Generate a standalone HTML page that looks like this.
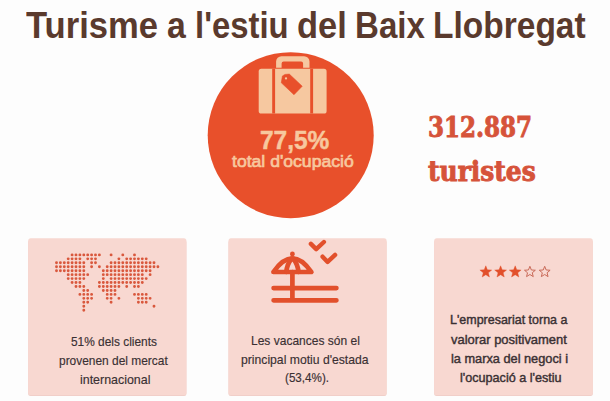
<!DOCTYPE html>
<html lang="ca"><head><meta charset="utf-8"><title>Turisme a l'estiu del Baix Llobregat</title>
<style>
html,body{margin:0;padding:0}
body{width:610px;height:401px;overflow:hidden;background:#fdfdfd;position:relative;font-family:"Liberation Sans",sans-serif}
svg{position:absolute;left:0;top:0}
.t{position:absolute;white-space:nowrap;line-height:1;margin:0;transform-origin:0 0}
h1{margin:0;font-size:0}
.ti{color:#5a3a2d}
.big{color:#d6533a}
.pct{color:#f7c89e}
.occ{color:#f7c89e}
.p{color:#3a3033}
</style></head><body>
<svg width="610" height="401" viewBox="0 0 610 401">
<circle cx="290.7" cy="135.2" r="83" fill="#e8502b"/>
<g fill="#f6c8a0">
<path d="M276.1 67.8V61.6a5.4 5.4 0 0 1 5.4-5.4h22.6a5.4 5.4 0 0 1 5.4 5.4V67.8h-6.4v-4.3a2 2 0 0 0-2-2h-17.5a2 2 0 0 0-2 2V67.8z"/>
<rect x="258.7" y="68.8" width="67.9" height="44.8" rx="2.6"/>
</g>
<path d="M272.2 68.8h2.9v44.8h-2.9zM310.2 68.8h2.9v44.8h-2.9z" fill="#e8502b"/>
<path d="M285 74.4L289.3 74.1L302.2 86.2L294 94.7L281.3 82.8L282.4 76z" fill="#e8502b" stroke="#e8502b" stroke-width="0.6" stroke-linejoin="round"/>
<circle cx="286" cy="78.4" r="1.15" fill="#f6c8a0"/>
<g fill="#efcdc6"><rect x="28.2" y="240" width="158.2" height="156" rx="2.5"/><rect x="228.5" y="240" width="158.1" height="156" rx="2.5"/><rect x="434.2" y="240" width="158.6" height="156" rx="2.5"/></g>
<g fill="#f8d8d1"><rect x="28.2" y="238.2" width="158.2" height="157" rx="2.5"/><rect x="228.5" y="238.2" width="158.1" height="157" rx="2.5"/><rect x="434.2" y="238.2" width="158.6" height="157" rx="2.5"/></g>
<path d="M70.65 254.90a1.45 1.45 0 1 0 2.9 0a1.45 1.45 0 1 0 -2.9 0zM74.55 254.90a1.45 1.45 0 1 0 2.9 0a1.45 1.45 0 1 0 -2.9 0zM78.45 254.90a1.45 1.45 0 1 0 2.9 0a1.45 1.45 0 1 0 -2.9 0zM82.35 254.90a1.45 1.45 0 1 0 2.9 0a1.45 1.45 0 1 0 -2.9 0zM86.25 254.90a1.45 1.45 0 1 0 2.9 0a1.45 1.45 0 1 0 -2.9 0zM90.15 254.90a1.45 1.45 0 1 0 2.9 0a1.45 1.45 0 1 0 -2.9 0zM94.05 254.90a1.45 1.45 0 1 0 2.9 0a1.45 1.45 0 1 0 -2.9 0zM97.95 254.90a1.45 1.45 0 1 0 2.9 0a1.45 1.45 0 1 0 -2.9 0zM109.65 254.90a1.45 1.45 0 1 0 2.9 0a1.45 1.45 0 1 0 -2.9 0zM121.35 254.90a1.45 1.45 0 1 0 2.9 0a1.45 1.45 0 1 0 -2.9 0zM133.05 254.90a1.45 1.45 0 1 0 2.9 0a1.45 1.45 0 1 0 -2.9 0zM66.75 258.85a1.45 1.45 0 1 0 2.9 0a1.45 1.45 0 1 0 -2.9 0zM70.65 258.85a1.45 1.45 0 1 0 2.9 0a1.45 1.45 0 1 0 -2.9 0zM74.55 258.85a1.45 1.45 0 1 0 2.9 0a1.45 1.45 0 1 0 -2.9 0zM78.45 258.85a1.45 1.45 0 1 0 2.9 0a1.45 1.45 0 1 0 -2.9 0zM86.25 258.85a1.45 1.45 0 1 0 2.9 0a1.45 1.45 0 1 0 -2.9 0zM90.15 258.85a1.45 1.45 0 1 0 2.9 0a1.45 1.45 0 1 0 -2.9 0zM94.05 258.85a1.45 1.45 0 1 0 2.9 0a1.45 1.45 0 1 0 -2.9 0zM117.45 258.85a1.45 1.45 0 1 0 2.9 0a1.45 1.45 0 1 0 -2.9 0zM125.25 258.85a1.45 1.45 0 1 0 2.9 0a1.45 1.45 0 1 0 -2.9 0zM129.15 258.85a1.45 1.45 0 1 0 2.9 0a1.45 1.45 0 1 0 -2.9 0zM133.05 258.85a1.45 1.45 0 1 0 2.9 0a1.45 1.45 0 1 0 -2.9 0zM136.95 258.85a1.45 1.45 0 1 0 2.9 0a1.45 1.45 0 1 0 -2.9 0zM140.85 258.85a1.45 1.45 0 1 0 2.9 0a1.45 1.45 0 1 0 -2.9 0zM144.75 258.85a1.45 1.45 0 1 0 2.9 0a1.45 1.45 0 1 0 -2.9 0zM55.05 262.80a1.45 1.45 0 1 0 2.9 0a1.45 1.45 0 1 0 -2.9 0zM58.95 262.80a1.45 1.45 0 1 0 2.9 0a1.45 1.45 0 1 0 -2.9 0zM62.85 262.80a1.45 1.45 0 1 0 2.9 0a1.45 1.45 0 1 0 -2.9 0zM66.75 262.80a1.45 1.45 0 1 0 2.9 0a1.45 1.45 0 1 0 -2.9 0zM70.65 262.80a1.45 1.45 0 1 0 2.9 0a1.45 1.45 0 1 0 -2.9 0zM74.55 262.80a1.45 1.45 0 1 0 2.9 0a1.45 1.45 0 1 0 -2.9 0zM78.45 262.80a1.45 1.45 0 1 0 2.9 0a1.45 1.45 0 1 0 -2.9 0zM82.35 262.80a1.45 1.45 0 1 0 2.9 0a1.45 1.45 0 1 0 -2.9 0zM90.15 262.80a1.45 1.45 0 1 0 2.9 0a1.45 1.45 0 1 0 -2.9 0zM94.05 262.80a1.45 1.45 0 1 0 2.9 0a1.45 1.45 0 1 0 -2.9 0zM109.65 262.80a1.45 1.45 0 1 0 2.9 0a1.45 1.45 0 1 0 -2.9 0zM113.55 262.80a1.45 1.45 0 1 0 2.9 0a1.45 1.45 0 1 0 -2.9 0zM117.45 262.80a1.45 1.45 0 1 0 2.9 0a1.45 1.45 0 1 0 -2.9 0zM121.35 262.80a1.45 1.45 0 1 0 2.9 0a1.45 1.45 0 1 0 -2.9 0zM125.25 262.80a1.45 1.45 0 1 0 2.9 0a1.45 1.45 0 1 0 -2.9 0zM129.15 262.80a1.45 1.45 0 1 0 2.9 0a1.45 1.45 0 1 0 -2.9 0zM133.05 262.80a1.45 1.45 0 1 0 2.9 0a1.45 1.45 0 1 0 -2.9 0zM136.95 262.80a1.45 1.45 0 1 0 2.9 0a1.45 1.45 0 1 0 -2.9 0zM140.85 262.80a1.45 1.45 0 1 0 2.9 0a1.45 1.45 0 1 0 -2.9 0zM144.75 262.80a1.45 1.45 0 1 0 2.9 0a1.45 1.45 0 1 0 -2.9 0zM148.65 262.80a1.45 1.45 0 1 0 2.9 0a1.45 1.45 0 1 0 -2.9 0zM152.55 262.80a1.45 1.45 0 1 0 2.9 0a1.45 1.45 0 1 0 -2.9 0zM55.05 266.75a1.45 1.45 0 1 0 2.9 0a1.45 1.45 0 1 0 -2.9 0zM58.95 266.75a1.45 1.45 0 1 0 2.9 0a1.45 1.45 0 1 0 -2.9 0zM62.85 266.75a1.45 1.45 0 1 0 2.9 0a1.45 1.45 0 1 0 -2.9 0zM66.75 266.75a1.45 1.45 0 1 0 2.9 0a1.45 1.45 0 1 0 -2.9 0zM70.65 266.75a1.45 1.45 0 1 0 2.9 0a1.45 1.45 0 1 0 -2.9 0zM74.55 266.75a1.45 1.45 0 1 0 2.9 0a1.45 1.45 0 1 0 -2.9 0zM78.45 266.75a1.45 1.45 0 1 0 2.9 0a1.45 1.45 0 1 0 -2.9 0zM82.35 266.75a1.45 1.45 0 1 0 2.9 0a1.45 1.45 0 1 0 -2.9 0zM90.15 266.75a1.45 1.45 0 1 0 2.9 0a1.45 1.45 0 1 0 -2.9 0zM97.95 266.75a1.45 1.45 0 1 0 2.9 0a1.45 1.45 0 1 0 -2.9 0zM105.75 266.75a1.45 1.45 0 1 0 2.9 0a1.45 1.45 0 1 0 -2.9 0zM109.65 266.75a1.45 1.45 0 1 0 2.9 0a1.45 1.45 0 1 0 -2.9 0zM113.55 266.75a1.45 1.45 0 1 0 2.9 0a1.45 1.45 0 1 0 -2.9 0zM117.45 266.75a1.45 1.45 0 1 0 2.9 0a1.45 1.45 0 1 0 -2.9 0zM121.35 266.75a1.45 1.45 0 1 0 2.9 0a1.45 1.45 0 1 0 -2.9 0zM125.25 266.75a1.45 1.45 0 1 0 2.9 0a1.45 1.45 0 1 0 -2.9 0zM129.15 266.75a1.45 1.45 0 1 0 2.9 0a1.45 1.45 0 1 0 -2.9 0zM133.05 266.75a1.45 1.45 0 1 0 2.9 0a1.45 1.45 0 1 0 -2.9 0zM136.95 266.75a1.45 1.45 0 1 0 2.9 0a1.45 1.45 0 1 0 -2.9 0zM140.85 266.75a1.45 1.45 0 1 0 2.9 0a1.45 1.45 0 1 0 -2.9 0zM144.75 266.75a1.45 1.45 0 1 0 2.9 0a1.45 1.45 0 1 0 -2.9 0zM148.65 266.75a1.45 1.45 0 1 0 2.9 0a1.45 1.45 0 1 0 -2.9 0zM152.55 266.75a1.45 1.45 0 1 0 2.9 0a1.45 1.45 0 1 0 -2.9 0zM156.45 266.75a1.45 1.45 0 1 0 2.9 0a1.45 1.45 0 1 0 -2.9 0zM55.05 270.70a1.45 1.45 0 1 0 2.9 0a1.45 1.45 0 1 0 -2.9 0zM58.95 270.70a1.45 1.45 0 1 0 2.9 0a1.45 1.45 0 1 0 -2.9 0zM62.85 270.70a1.45 1.45 0 1 0 2.9 0a1.45 1.45 0 1 0 -2.9 0zM66.75 270.70a1.45 1.45 0 1 0 2.9 0a1.45 1.45 0 1 0 -2.9 0zM70.65 270.70a1.45 1.45 0 1 0 2.9 0a1.45 1.45 0 1 0 -2.9 0zM74.55 270.70a1.45 1.45 0 1 0 2.9 0a1.45 1.45 0 1 0 -2.9 0zM78.45 270.70a1.45 1.45 0 1 0 2.9 0a1.45 1.45 0 1 0 -2.9 0zM82.35 270.70a1.45 1.45 0 1 0 2.9 0a1.45 1.45 0 1 0 -2.9 0zM101.85 270.70a1.45 1.45 0 1 0 2.9 0a1.45 1.45 0 1 0 -2.9 0zM105.75 270.70a1.45 1.45 0 1 0 2.9 0a1.45 1.45 0 1 0 -2.9 0zM109.65 270.70a1.45 1.45 0 1 0 2.9 0a1.45 1.45 0 1 0 -2.9 0zM113.55 270.70a1.45 1.45 0 1 0 2.9 0a1.45 1.45 0 1 0 -2.9 0zM117.45 270.70a1.45 1.45 0 1 0 2.9 0a1.45 1.45 0 1 0 -2.9 0zM121.35 270.70a1.45 1.45 0 1 0 2.9 0a1.45 1.45 0 1 0 -2.9 0zM125.25 270.70a1.45 1.45 0 1 0 2.9 0a1.45 1.45 0 1 0 -2.9 0zM129.15 270.70a1.45 1.45 0 1 0 2.9 0a1.45 1.45 0 1 0 -2.9 0zM133.05 270.70a1.45 1.45 0 1 0 2.9 0a1.45 1.45 0 1 0 -2.9 0zM136.95 270.70a1.45 1.45 0 1 0 2.9 0a1.45 1.45 0 1 0 -2.9 0zM140.85 270.70a1.45 1.45 0 1 0 2.9 0a1.45 1.45 0 1 0 -2.9 0zM144.75 270.70a1.45 1.45 0 1 0 2.9 0a1.45 1.45 0 1 0 -2.9 0zM148.65 270.70a1.45 1.45 0 1 0 2.9 0a1.45 1.45 0 1 0 -2.9 0zM66.75 274.65a1.45 1.45 0 1 0 2.9 0a1.45 1.45 0 1 0 -2.9 0zM70.65 274.65a1.45 1.45 0 1 0 2.9 0a1.45 1.45 0 1 0 -2.9 0zM74.55 274.65a1.45 1.45 0 1 0 2.9 0a1.45 1.45 0 1 0 -2.9 0zM78.45 274.65a1.45 1.45 0 1 0 2.9 0a1.45 1.45 0 1 0 -2.9 0zM82.35 274.65a1.45 1.45 0 1 0 2.9 0a1.45 1.45 0 1 0 -2.9 0zM86.25 274.65a1.45 1.45 0 1 0 2.9 0a1.45 1.45 0 1 0 -2.9 0zM101.85 274.65a1.45 1.45 0 1 0 2.9 0a1.45 1.45 0 1 0 -2.9 0zM105.75 274.65a1.45 1.45 0 1 0 2.9 0a1.45 1.45 0 1 0 -2.9 0zM109.65 274.65a1.45 1.45 0 1 0 2.9 0a1.45 1.45 0 1 0 -2.9 0zM113.55 274.65a1.45 1.45 0 1 0 2.9 0a1.45 1.45 0 1 0 -2.9 0zM117.45 274.65a1.45 1.45 0 1 0 2.9 0a1.45 1.45 0 1 0 -2.9 0zM121.35 274.65a1.45 1.45 0 1 0 2.9 0a1.45 1.45 0 1 0 -2.9 0zM125.25 274.65a1.45 1.45 0 1 0 2.9 0a1.45 1.45 0 1 0 -2.9 0zM129.15 274.65a1.45 1.45 0 1 0 2.9 0a1.45 1.45 0 1 0 -2.9 0zM133.05 274.65a1.45 1.45 0 1 0 2.9 0a1.45 1.45 0 1 0 -2.9 0zM136.95 274.65a1.45 1.45 0 1 0 2.9 0a1.45 1.45 0 1 0 -2.9 0zM140.85 274.65a1.45 1.45 0 1 0 2.9 0a1.45 1.45 0 1 0 -2.9 0zM148.65 274.65a1.45 1.45 0 1 0 2.9 0a1.45 1.45 0 1 0 -2.9 0zM66.75 278.60a1.45 1.45 0 1 0 2.9 0a1.45 1.45 0 1 0 -2.9 0zM70.65 278.60a1.45 1.45 0 1 0 2.9 0a1.45 1.45 0 1 0 -2.9 0zM74.55 278.60a1.45 1.45 0 1 0 2.9 0a1.45 1.45 0 1 0 -2.9 0zM78.45 278.60a1.45 1.45 0 1 0 2.9 0a1.45 1.45 0 1 0 -2.9 0zM82.35 278.60a1.45 1.45 0 1 0 2.9 0a1.45 1.45 0 1 0 -2.9 0zM101.85 278.60a1.45 1.45 0 1 0 2.9 0a1.45 1.45 0 1 0 -2.9 0zM109.65 278.60a1.45 1.45 0 1 0 2.9 0a1.45 1.45 0 1 0 -2.9 0zM113.55 278.60a1.45 1.45 0 1 0 2.9 0a1.45 1.45 0 1 0 -2.9 0zM117.45 278.60a1.45 1.45 0 1 0 2.9 0a1.45 1.45 0 1 0 -2.9 0zM121.35 278.60a1.45 1.45 0 1 0 2.9 0a1.45 1.45 0 1 0 -2.9 0zM125.25 278.60a1.45 1.45 0 1 0 2.9 0a1.45 1.45 0 1 0 -2.9 0zM129.15 278.60a1.45 1.45 0 1 0 2.9 0a1.45 1.45 0 1 0 -2.9 0zM133.05 278.60a1.45 1.45 0 1 0 2.9 0a1.45 1.45 0 1 0 -2.9 0zM136.95 278.60a1.45 1.45 0 1 0 2.9 0a1.45 1.45 0 1 0 -2.9 0zM140.85 278.60a1.45 1.45 0 1 0 2.9 0a1.45 1.45 0 1 0 -2.9 0zM144.75 278.60a1.45 1.45 0 1 0 2.9 0a1.45 1.45 0 1 0 -2.9 0zM70.65 282.55a1.45 1.45 0 1 0 2.9 0a1.45 1.45 0 1 0 -2.9 0zM74.55 282.55a1.45 1.45 0 1 0 2.9 0a1.45 1.45 0 1 0 -2.9 0zM78.45 282.55a1.45 1.45 0 1 0 2.9 0a1.45 1.45 0 1 0 -2.9 0zM97.95 282.55a1.45 1.45 0 1 0 2.9 0a1.45 1.45 0 1 0 -2.9 0zM101.85 282.55a1.45 1.45 0 1 0 2.9 0a1.45 1.45 0 1 0 -2.9 0zM105.75 282.55a1.45 1.45 0 1 0 2.9 0a1.45 1.45 0 1 0 -2.9 0zM109.65 282.55a1.45 1.45 0 1 0 2.9 0a1.45 1.45 0 1 0 -2.9 0zM113.55 282.55a1.45 1.45 0 1 0 2.9 0a1.45 1.45 0 1 0 -2.9 0zM117.45 282.55a1.45 1.45 0 1 0 2.9 0a1.45 1.45 0 1 0 -2.9 0zM121.35 282.55a1.45 1.45 0 1 0 2.9 0a1.45 1.45 0 1 0 -2.9 0zM125.25 282.55a1.45 1.45 0 1 0 2.9 0a1.45 1.45 0 1 0 -2.9 0zM129.15 282.55a1.45 1.45 0 1 0 2.9 0a1.45 1.45 0 1 0 -2.9 0zM133.05 282.55a1.45 1.45 0 1 0 2.9 0a1.45 1.45 0 1 0 -2.9 0zM136.95 282.55a1.45 1.45 0 1 0 2.9 0a1.45 1.45 0 1 0 -2.9 0zM140.85 282.55a1.45 1.45 0 1 0 2.9 0a1.45 1.45 0 1 0 -2.9 0zM74.55 286.50a1.45 1.45 0 1 0 2.9 0a1.45 1.45 0 1 0 -2.9 0zM78.45 286.50a1.45 1.45 0 1 0 2.9 0a1.45 1.45 0 1 0 -2.9 0zM82.35 286.50a1.45 1.45 0 1 0 2.9 0a1.45 1.45 0 1 0 -2.9 0zM97.95 286.50a1.45 1.45 0 1 0 2.9 0a1.45 1.45 0 1 0 -2.9 0zM101.85 286.50a1.45 1.45 0 1 0 2.9 0a1.45 1.45 0 1 0 -2.9 0zM105.75 286.50a1.45 1.45 0 1 0 2.9 0a1.45 1.45 0 1 0 -2.9 0zM109.65 286.50a1.45 1.45 0 1 0 2.9 0a1.45 1.45 0 1 0 -2.9 0zM113.55 286.50a1.45 1.45 0 1 0 2.9 0a1.45 1.45 0 1 0 -2.9 0zM117.45 286.50a1.45 1.45 0 1 0 2.9 0a1.45 1.45 0 1 0 -2.9 0zM125.25 286.50a1.45 1.45 0 1 0 2.9 0a1.45 1.45 0 1 0 -2.9 0zM133.05 286.50a1.45 1.45 0 1 0 2.9 0a1.45 1.45 0 1 0 -2.9 0zM136.95 286.50a1.45 1.45 0 1 0 2.9 0a1.45 1.45 0 1 0 -2.9 0zM82.35 290.45a1.45 1.45 0 1 0 2.9 0a1.45 1.45 0 1 0 -2.9 0zM86.25 290.45a1.45 1.45 0 1 0 2.9 0a1.45 1.45 0 1 0 -2.9 0zM101.85 290.45a1.45 1.45 0 1 0 2.9 0a1.45 1.45 0 1 0 -2.9 0zM105.75 290.45a1.45 1.45 0 1 0 2.9 0a1.45 1.45 0 1 0 -2.9 0zM109.65 290.45a1.45 1.45 0 1 0 2.9 0a1.45 1.45 0 1 0 -2.9 0zM113.55 290.45a1.45 1.45 0 1 0 2.9 0a1.45 1.45 0 1 0 -2.9 0zM78.45 294.40a1.45 1.45 0 1 0 2.9 0a1.45 1.45 0 1 0 -2.9 0zM82.35 294.40a1.45 1.45 0 1 0 2.9 0a1.45 1.45 0 1 0 -2.9 0zM86.25 294.40a1.45 1.45 0 1 0 2.9 0a1.45 1.45 0 1 0 -2.9 0zM90.15 294.40a1.45 1.45 0 1 0 2.9 0a1.45 1.45 0 1 0 -2.9 0zM105.75 294.40a1.45 1.45 0 1 0 2.9 0a1.45 1.45 0 1 0 -2.9 0zM109.65 294.40a1.45 1.45 0 1 0 2.9 0a1.45 1.45 0 1 0 -2.9 0zM113.55 294.40a1.45 1.45 0 1 0 2.9 0a1.45 1.45 0 1 0 -2.9 0zM133.05 294.40a1.45 1.45 0 1 0 2.9 0a1.45 1.45 0 1 0 -2.9 0zM136.95 294.40a1.45 1.45 0 1 0 2.9 0a1.45 1.45 0 1 0 -2.9 0zM140.85 294.40a1.45 1.45 0 1 0 2.9 0a1.45 1.45 0 1 0 -2.9 0zM144.75 294.40a1.45 1.45 0 1 0 2.9 0a1.45 1.45 0 1 0 -2.9 0zM82.35 298.35a1.45 1.45 0 1 0 2.9 0a1.45 1.45 0 1 0 -2.9 0zM86.25 298.35a1.45 1.45 0 1 0 2.9 0a1.45 1.45 0 1 0 -2.9 0zM90.15 298.35a1.45 1.45 0 1 0 2.9 0a1.45 1.45 0 1 0 -2.9 0zM105.75 298.35a1.45 1.45 0 1 0 2.9 0a1.45 1.45 0 1 0 -2.9 0zM109.65 298.35a1.45 1.45 0 1 0 2.9 0a1.45 1.45 0 1 0 -2.9 0zM117.45 298.35a1.45 1.45 0 1 0 2.9 0a1.45 1.45 0 1 0 -2.9 0zM136.95 298.35a1.45 1.45 0 1 0 2.9 0a1.45 1.45 0 1 0 -2.9 0zM140.85 298.35a1.45 1.45 0 1 0 2.9 0a1.45 1.45 0 1 0 -2.9 0zM144.75 298.35a1.45 1.45 0 1 0 2.9 0a1.45 1.45 0 1 0 -2.9 0zM148.65 298.35a1.45 1.45 0 1 0 2.9 0a1.45 1.45 0 1 0 -2.9 0zM82.35 302.30a1.45 1.45 0 1 0 2.9 0a1.45 1.45 0 1 0 -2.9 0zM86.25 302.30a1.45 1.45 0 1 0 2.9 0a1.45 1.45 0 1 0 -2.9 0zM109.65 302.30a1.45 1.45 0 1 0 2.9 0a1.45 1.45 0 1 0 -2.9 0zM136.95 302.30a1.45 1.45 0 1 0 2.9 0a1.45 1.45 0 1 0 -2.9 0zM140.85 302.30a1.45 1.45 0 1 0 2.9 0a1.45 1.45 0 1 0 -2.9 0zM144.75 302.30a1.45 1.45 0 1 0 2.9 0a1.45 1.45 0 1 0 -2.9 0zM82.35 306.25a1.45 1.45 0 1 0 2.9 0a1.45 1.45 0 1 0 -2.9 0zM152.55 306.25a1.45 1.45 0 1 0 2.9 0a1.45 1.45 0 1 0 -2.9 0zM82.35 310.20a1.45 1.45 0 1 0 2.9 0a1.45 1.45 0 1 0 -2.9 0z" fill="#d9583d"/>
<g fill="none" stroke="#e2502c" stroke-width="4.7" stroke-linecap="round" stroke-linejoin="round">
<path d="M273.6 288.1H336.4M273.6 300.3H336.4M292.4 272.2V300.3"/>
<path d="M273.4 272Q292.4 244.8 311.4 272z"/>
<path d="M286.3 272Q287 264.5 291.4 258.8M298.5 272Q297.8 264.5 293.4 258.8"/>
<path d="M310.9 243.9l5.3 5.2 7.7-7.1M322.6 256.7l5 5.2 7.5-7" stroke-width="4.4"/>
</g>
<circle cx="292.4" cy="254" r="2.4" fill="#e2502c"/>
<polygon points="485.80,265.80 487.39,269.82 491.70,270.08 488.37,272.83 489.44,277.02 485.80,274.70 482.16,277.02 483.23,272.83 479.90,270.08 484.21,269.82" fill="#e2502c" stroke="#e2502c" stroke-width="0.4" stroke-linejoin="round"/><polygon points="500.60,265.80 502.19,269.82 506.50,270.08 503.17,272.83 504.24,277.02 500.60,274.70 496.96,277.02 498.03,272.83 494.70,270.08 499.01,269.82" fill="#e2502c" stroke="#e2502c" stroke-width="0.4" stroke-linejoin="round"/><polygon points="515.20,265.80 516.79,269.82 521.10,270.08 517.77,272.83 518.84,277.02 515.20,274.70 511.56,277.02 512.63,272.83 509.30,270.08 513.61,269.82" fill="#e2502c" stroke="#e2502c" stroke-width="0.4" stroke-linejoin="round"/><polygon points="529.90,266.30 531.37,269.98 535.32,270.24 532.28,272.77 533.25,276.61 529.90,274.50 526.55,276.61 527.52,272.77 524.48,270.24 528.43,269.98" fill="none" stroke="#c96a58" stroke-width="1"/><polygon points="544.70,266.30 546.17,269.98 550.12,270.24 547.08,272.77 548.05,276.61 544.70,274.50 541.35,276.61 542.32,272.77 539.28,270.24 543.23,269.98" fill="none" stroke="#c96a58" stroke-width="1"/>
</svg>
<h1><span class="t ti" style="font-family:'Liberation Sans',sans-serif;font-weight:bold;font-size:36.6px;left:26.03px;top:7.50px;transform:scaleX(0.9459)">Turisme</span> <span class="t ti" style="font-family:'Liberation Sans',sans-serif;font-weight:bold;font-size:36.6px;left:166.78px;top:7.50px;transform:scaleX(0.9231)">a</span> <span class="t ti" style="font-family:'Liberation Sans',sans-serif;font-weight:bold;font-size:36.6px;left:195.25px;top:7.50px;transform:scaleX(0.8987)">l'estiu</span> <span class="t ti" style="font-family:'Liberation Sans',sans-serif;font-weight:bold;font-size:36.6px;left:296.69px;top:7.50px;transform:scaleX(0.9415)">del</span> <span class="t ti" style="font-family:'Liberation Sans',sans-serif;font-weight:bold;font-size:36.6px;left:354.64px;top:7.50px;transform:scaleX(0.9047)">Baix</span> <span class="t ti" style="font-family:'Liberation Sans',sans-serif;font-weight:bold;font-size:36.6px;left:432.81px;top:7.50px;transform:scaleX(0.9160)">Llobregat</span> </h1>
<div class="t pct" style="font-family:'Liberation Sans',sans-serif;font-weight:bold;font-size:26.6px;-webkit-text-stroke:0.5px;left:259.58px;top:126.60px;transform:scaleX(0.9189)">77,5%</div>
<div class="t occ" style="font-family:'Liberation Sans',sans-serif;font-size:17.2px;-webkit-text-stroke:0.7px;left:231.60px;top:153.10px;transform:scaleX(1.0236)">total d'ocupació</div>
<div class="t big" style="font-family:'DejaVu Serif Condensed','DejaVu Serif','Liberation Serif',serif;font-weight:bold;-webkit-text-stroke:0.9px;font-size:28.6px;left:427.68px;top:112.50px;transform:scaleX(0.8934)">312.887</div>
<div class="t big" style="font-family:'DejaVu Serif Condensed','DejaVu Serif','Liberation Serif',serif;font-weight:bold;-webkit-text-stroke:0.9px;font-size:28.6px;left:428.26px;top:157.40px;transform:scaleX(0.9696)">turistes</div>
<div class="t p" style="font-family:'Liberation Sans',sans-serif;font-size:12.2px;-webkit-text-stroke:0.15px;left:71.01px;top:335.70px;transform:scaleX(0.9754)">51% dels clients</div>
<div class="t p" style="font-family:'Liberation Sans',sans-serif;font-size:12.2px;-webkit-text-stroke:0.15px;left:59.47px;top:354.50px;transform:scaleX(0.9787)">provenen del mercat</div>
<div class="t p" style="font-family:'Liberation Sans',sans-serif;font-size:12.2px;-webkit-text-stroke:0.15px;left:80.44px;top:373.60px;transform:scaleX(1.0193)">internacional</div>
<div class="t p" style="font-family:'Liberation Sans',sans-serif;font-size:12.2px;-webkit-text-stroke:0.15px;left:251.21px;top:335.00px;transform:scaleX(0.9857)">Les vacances són el</div>
<div class="t p" style="font-family:'Liberation Sans',sans-serif;font-size:12.2px;-webkit-text-stroke:0.15px;left:241.25px;top:353.80px;transform:scaleX(0.9992)">principal motiu d'estada</div>
<div class="t p" style="font-family:'Liberation Sans',sans-serif;font-size:12.2px;-webkit-text-stroke:0.15px;left:285.18px;top:372.00px;transform:scaleX(0.9559)">(53,4%).</div>
<div class="t p m" style="font-family:'Liberation Sans',sans-serif;font-size:12.2px;-webkit-text-stroke:0.4px;left:450.23px;top:314.30px;transform:scaleX(1.0232)">L'empresariat torna a</div>
<div class="t p m" style="font-family:'Liberation Sans',sans-serif;font-size:12.2px;-webkit-text-stroke:0.4px;left:451.27px;top:333.60px;transform:scaleX(1.0621)">valorar positivament</div>
<div class="t p m" style="font-family:'Liberation Sans',sans-serif;font-size:12.2px;-webkit-text-stroke:0.4px;left:450.88px;top:353.40px;transform:scaleX(1.0465)">la marxa del negoci i</div>
<div class="t p m" style="font-family:'Liberation Sans',sans-serif;font-size:12.2px;-webkit-text-stroke:0.4px;left:459.98px;top:372.30px;transform:scaleX(1.0351)">l'ocupació a l'estiu</div>
</body></html>
